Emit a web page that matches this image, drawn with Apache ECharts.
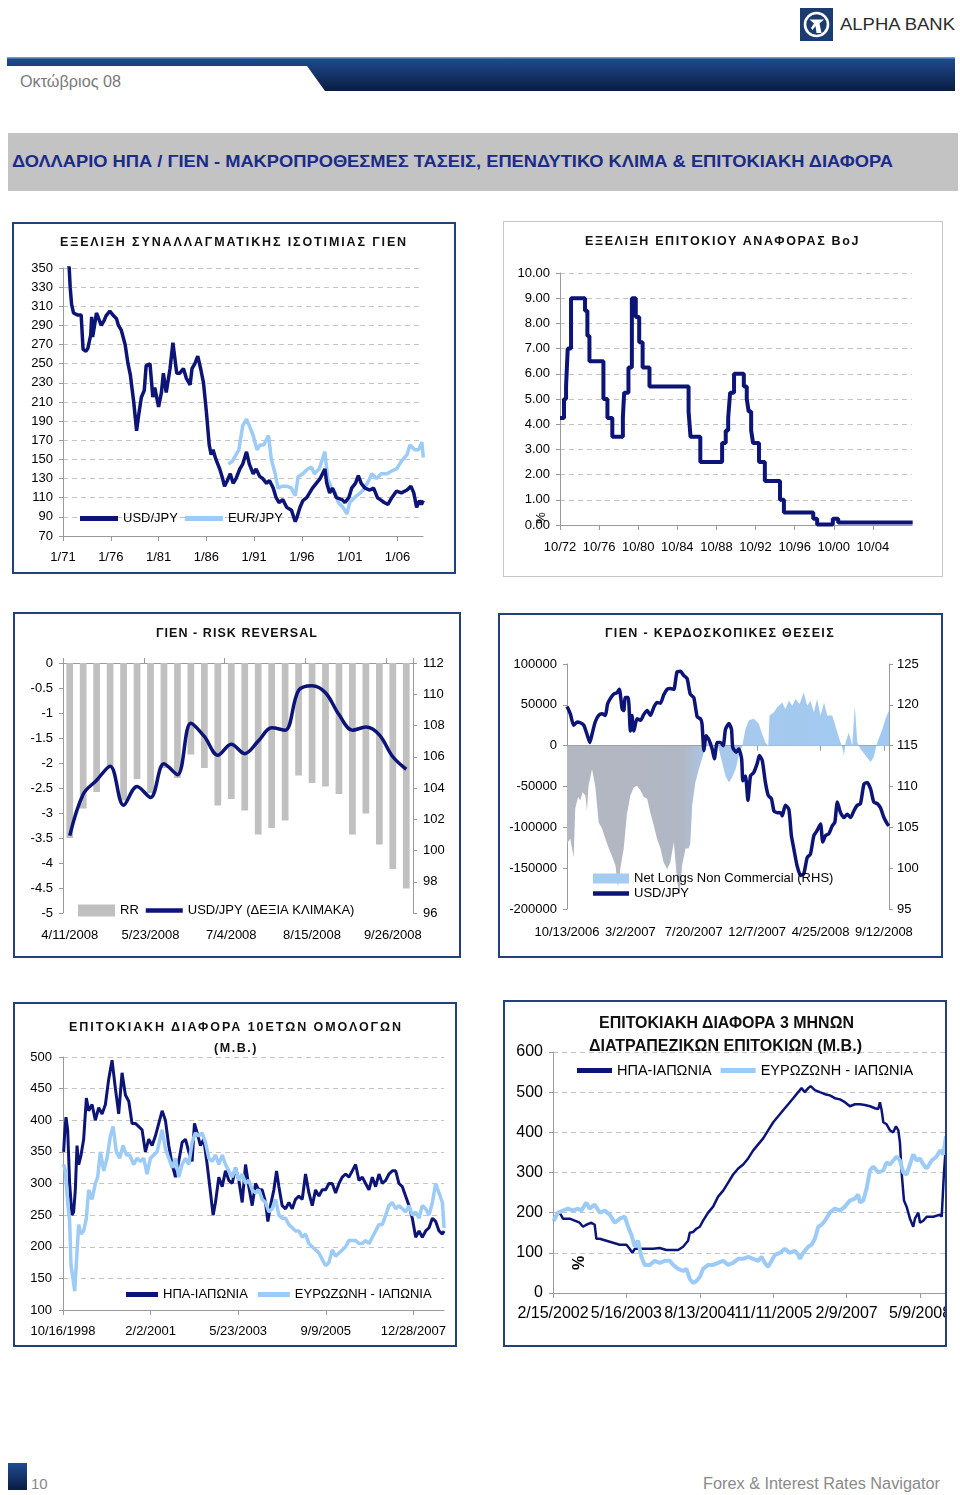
<!DOCTYPE html>
<html><head><meta charset="utf-8">
<script src="https://cdn.jsdelivr.net/npm/echarts@6/dist/echarts.min.js"></script>
<style>
html,body{margin:0;padding:0;background:#fff}
body{position:relative;width:960px;height:1495px;overflow:hidden;font-family:'Liberation Sans',Arial,sans-serif}
.t{position:absolute;white-space:nowrap;line-height:1}
.chart{position:absolute}
.box{position:absolute;box-sizing:border-box;border:2px solid #22407c;pointer-events:none;z-index:2}
.ct{position:absolute;white-space:nowrap;line-height:1;font:bold 12.5px 'Liberation Sans',Arial,sans-serif;color:#111;z-index:3}
.ct6{position:absolute;white-space:nowrap;line-height:1;font:bold 17px 'Liberation Sans',Arial,sans-serif;color:#111;z-index:3}
</style></head><body>

<!-- header -->
<svg style="position:absolute;left:800px;top:8px" width="33" height="33">
  <rect width="33" height="33" fill="#1c3b6e"/>
  <circle cx="16.5" cy="16.5" r="11.5" fill="none" stroke="#fff" stroke-width="2.6"/>
  <path d="M9.5 11.5 L24 11.5 L19.5 15.5 L21.5 25 L16.5 25 L15.5 18 L12.5 22 L11 20 L14 15.5 Z" fill="#fff"/>
</svg>
<div class="t" data-w="115" style="left:840px;top:16px;font-size:17px;color:#2b2b2b">ALPHA BANK</div>
<svg style="position:absolute;left:0;top:55px" width="960" height="40">
  <defs><linearGradient id="gb" x1="0" y1="0" x2="0" y2="1"><stop offset="0" stop-color="#1f4d92"/><stop offset="1" stop-color="#0a1c42"/></linearGradient></defs>
  <rect x="7" y="2" width="948" height="34" fill="url(#gb)"/>
  <rect x="7" y="2" width="948" height="1.5" fill="#6f9ad4"/>
  <polygon points="7,11 307,11 325,36 7,36" fill="#fff"/>
</svg>
<div class="t" data-w="101" style="left:20px;top:74px;font-size:16px;color:#7a7a7a">Οκτώβριος 08</div>
<div style="position:absolute;left:8px;top:133px;width:950px;height:58px;background:#c3c3c3"></div>
<div class="t" data-w="881" style="left:12px;top:153px;font-size:17px;font-weight:bold;color:#1a2b8a">ΔΟΛΛΑΡΙΟ ΗΠΑ / ΓΙΕΝ - ΜΑΚΡΟΠΡΟΘΕΣΜΕΣ ΤΑΣΕΙΣ, ΕΠΕΝΔΥΤΙΚΟ ΚΛΙΜΑ &amp; ΕΠΙΤΟΚΙΑΚΗ ΔΙΑΦΟΡΑ</div>

<!-- charts -->
<div id="c1" class="chart" style="left:12px;top:222px;width:444px;height:352px"></div>
<div class="box" style="left:12px;top:222px;width:444px;height:352px"></div>
<div class="ct" data-w="348" data-mode="ls" style="left:60px;top:235px">ΕΞΕΛΙΞΗ ΣΥΝΑΛΛΑΓΜΑΤΙΚΗΣ ΙΣΟΤΙΜΙΑΣ ΓΙΕΝ</div>

<div id="c2" class="chart" style="left:503px;top:221px;width:440px;height:356px"></div>
<div class="box" style="left:503px;top:221px;width:440px;height:356px;border:1px solid #c8c8c8"></div>
<div class="ct" data-w="275" data-mode="ls" style="left:585px;top:234px">ΕΞΕΛΙΞΗ ΕΠΙΤΟΚΙΟΥ ΑΝΑΦΟΡΑΣ BoJ</div>

<div id="c3" class="chart" style="left:13px;top:612px;width:448px;height:346px"></div>
<div class="box" style="left:13px;top:612px;width:448px;height:346px"></div>
<div class="ct" data-w="162" data-mode="ls" style="left:156px;top:626px">ΓΙΕΝ - RISK REVERSAL</div>

<div id="c4" class="chart" style="left:498px;top:613px;width:445px;height:345px"></div>
<div class="box" style="left:498px;top:613px;width:445px;height:345px"></div>
<div class="ct" data-w="230" data-mode="ls" style="left:605px;top:626px">ΓΙΕΝ - ΚΕΡΔΟΣΚΟΠΙΚΕΣ ΘΕΣΕΙΣ</div>

<div id="c5" class="chart" style="left:13px;top:1002px;width:444px;height:345px"></div>
<div class="box" style="left:13px;top:1002px;width:444px;height:345px"></div>
<div class="ct" data-w="334" data-mode="ls" style="left:69px;top:1020px">ΕΠΙΤΟΚΙΑΚΗ ΔΙΑΦΟΡΑ 10ΕΤΩΝ ΟΜΟΛΟΓΩΝ</div>
<div class="ct" data-w="44" data-mode="ls" style="left:214px;top:1041px">(Μ.Β.)</div>

<div id="c6" class="chart" style="left:503px;top:1000px;width:444px;height:347px"></div>
<div class="box" style="left:503px;top:1000px;width:444px;height:347px"></div>
<div class="ct6" data-w="255" style="left:599px;top:1013px">ΕΠΙΤΟΚΙΑΚΗ ΔΙΑΦΟΡΑ 3 ΜΗΝΩΝ</div>
<div class="ct6" data-w="273" style="left:589px;top:1036px">ΔΙΑΤΡΑΠΕΖΙΚΩΝ ΕΠΙΤΟΚΙΩΝ (Μ.Β.)</div>

<!-- footer -->
<div style="position:absolute;left:8px;top:1463px;width:19px;height:27px;background:linear-gradient(#1f4d92,#0a1c42)"></div>
<div class="t" style="left:31px;top:1476px;font-size:15px;color:#888">10</div>
<div class="t" data-w="237" style="left:703px;top:1476px;font-size:16px;color:#8a8a8a">Forex &amp; Interest Rates Navigator</div>

<script>
// ---------- DATA ----------
// Chart 1: yen exchange rates (decimal year, value)
const fxTickLabels = ['1/71','1/76','1/81','1/86','1/91','1/96','1/01','1/06'];
const usdJpyYear = [1971.0,1971.5,1971.65,1971.75,1971.9,1972.1,1972.5,1972.9,1973.1,1973.4,1973.6,1973.9,1974.0,1974.1,1974.3,1974.5,1974.7,1974.9,1975.0,1975.3,1975.5,1975.9,1976.3,1976.6,1976.8,1977.1,1977.5,1977.8,1978.05,1978.4,1978.7,1978.9,1979.2,1979.5,1979.7,1980.1,1980.4,1980.6,1981.0,1981.3,1981.5,1981.8,1982.2,1982.5,1982.9,1983.2,1983.6,1983.9,1984.3,1984.5,1984.8,1985.1,1985.4,1985.7,1986.0,1986.3,1986.5,1986.7,1987.0,1987.4,1987.7,1987.9,1988.2,1988.5,1988.8,1989.1,1989.5,1989.8,1990.2,1990.5,1990.9,1991.2,1991.6,1991.9,1992.3,1992.6,1993.0,1993.3,1993.6,1994.0,1994.4,1994.9,1995.3,1995.5,1995.8,1996.1,1996.5,1996.8,1997.1,1997.5,1997.9,1998.4,1998.6,1998.9,1999.2,1999.6,2000.2,2000.5,2000.9,2001.2,2001.6,2001.9,2002.2,2002.6,2003.1,2003.5,2003.9,2004.2,2004.6,2005.0,2005.4,2005.9,2006.4,2007.0,2007.4,2007.7,2008.0,2008.3,2008.5,2008.7];
const usdJpyValue = [358,357,350,330,312,303,301,301,265,263,266,280,299,278,290,303,298,300,290,295,300,305,300,297,290,285,270,250,238,210,180,195,215,222,248,250,215,225,205,220,240,220,245,272,240,240,245,235,228,245,250,258,245,230,200,165,155,160,150,140,130,122,128,135,125,130,140,145,158,145,135,140,132,130,125,128,120,110,105,108,100,97,85,90,100,107,110,115,120,125,130,140,125,115,120,110,108,105,110,120,125,133,125,120,118,120,110,108,105,103,110,117,115,118,122,115,100,107,103,107];
const eurJpyYear = [1988.3,1988.7,1989.4,1989.8,1990.2,1990.5,1990.9,1991.3,1991.6,1992.0,1992.5,1992.8,1993.2,1993.5,1993.9,1994.4,1994.9,1995.3,1995.6,1996.1,1996.6,1997.0,1997.3,1997.8,1998.4,1998.7,1999.1,1999.5,1999.8,2000.3,2000.7,2001.0,2001.5,2002.1,2002.4,2003.0,2003.3,2003.8,2004.3,2004.9,2005.4,2005.9,2006.4,2007.0,2007.3,2007.8,2008.2,2008.55,2008.7];
const eurJpyValue = [145,148,160,185,192,185,175,160,165,165,175,150,135,120,122,122,120,112,132,135,140,142,135,140,158,130,120,115,105,100,93,105,110,115,118,128,135,130,135,135,138,140,148,155,165,160,160,168,152];

// Chart 2: BoJ reference rate, change points (decimal year, %)
const bojTickLabels = ['10/72','10/76','10/80','10/84','10/88','10/92','10/96','10/00','10/04'];
const bojYear = [1972.75,1973.16,1973.37,1973.54,1973.88,1975.31,1975.55,1975.76,1977.19,1977.6,1978.1,1979.18,1979.31,1979.75,1980.1,1980.5,1980.85,1981.2,1981.9,1985.9,1986.1,1987.1,1989.33,1989.7,1989.95,1990.15,1990.55,1991.55,1991.85,1992.05,1992.3,1992.5,1993.1,1993.7,1995.25,1995.65,1998.65,1999.05,2000.65,2001.2,2008.82];
const bojRate = [4.25,5.0,5.5,7.0,9.0,8.5,7.5,6.5,5.0,4.25,3.5,4.25,5.25,6.25,9.0,8.25,7.25,6.25,5.5,4.5,3.5,2.5,3.25,3.75,4.25,5.25,6.0,5.5,5.0,4.5,3.75,3.25,2.5,1.75,1.0,0.5,0.25,0.02,0.25,0.1,0.1];

// Chart 3: risk reversal (weekly)
const rrDates = ['4/11/2008','4/18/2008','4/25/2008','5/2/2008','5/9/2008','5/16/2008','5/23/2008','5/30/2008','6/6/2008','6/13/2008','6/20/2008','6/27/2008','7/4/2008','7/11/2008','7/18/2008','7/25/2008','8/1/2008','8/8/2008','8/15/2008','8/22/2008','8/29/2008','9/5/2008','9/12/2008','9/19/2008','9/26/2008','10/3/2008'];
const rrValues = [-3.5,-2.91,-2.58,-2.07,-2.75,-2.32,-2.6,-2.1,-2.3,-1.83,-2.1,-2.85,-2.72,-2.95,-3.43,-3.3,-3.15,-2.25,-2.4,-2.47,-2.62,-3.43,-3.01,-3.63,-4.12,-4.51];
const rrUsdJpy = [100.95,103.6,104.5,105.4,102.9,104.1,103.4,105.55,104.85,108.15,107.3,106.1,106.8,106.2,107.0,107.85,107.7,110.25,110.55,110.1,108.7,107.7,107.9,107.4,106.0,105.2];

// Chart 4: speculative positions (weeks since 10/13/2006)
const cotTickLabels = ['10/13/2006','3/2/2007','7/20/2007','12/7/2007','4/25/2008','9/12/2008'];
const cotWeek = [0,1.05,2.1,2.6,3.5,4.2,4.9,5.8,6.3,6.8,7.9,8.9,10,11.1,12.1,13.2,14.2,15.3,16.1,16.8,17.9,18.9,20,21.1,22.1,23.2,24.2,25.3,26.3,27.4,28.4,29.5,30.5,31.6,32.6,33.7,34.7,35.5,36.3,37.4,38.4,38.9,39.5,40.5,41.6,42.6,43.7,44.7,45.8,47.4,48.4,50,51.1,52.1,53.2,54.2,55.3,56.3,57.4,58.9,60.5,61.6,62.6,63.5,63.9,65.3,66.3,67.9,68.9,70,71.1,72.1,73.4,74.7,75.8,76.8,77.9,78.9,80,81.1,82.1,83.7,84.7,85.8,86.8,87.4,87.9,88.9,90,90.8,91.6,92.6,94.2,95.8,96.8,97.9,99.5,100.5,101.6];
const cotNetLongs = [-120000,-114000,-137000,-77000,-63000,-67000,-57000,-61000,-80000,-49000,-29000,-49000,-94000,-102000,-114000,-126000,-135000,-147000,-173000,-151000,-126000,-84000,-61000,-51000,-49000,-55000,-63000,-65000,-82000,-98000,-114000,-126000,-143000,-151000,-143000,-118000,-163000,-184000,-147000,-126000,-126000,-120000,-73000,-45000,-29000,-16000,-2000,6000,-4000,4000,-12000,-37000,-45000,-39000,-29000,-12000,0,20000,31000,33000,27000,14000,4000,0,37000,41000,47000,53000,45000,55000,49000,57000,51000,65000,49000,55000,41000,57000,37000,53000,37000,37000,24000,10000,-2000,-12000,4000,16000,0,49000,4000,-4000,-12000,-20000,-14000,4000,20000,33000,43000];
const cotFxWeek = [0,1.05,2.1,3.2,4.2,5.3,6.3,7.2,7.9,8.9,10,11.1,12.1,12.8,13.7,14.7,15.8,16.5,17.4,17.9,18.4,19.3,20,20.5,21.1,22.1,23.2,24.2,25.3,26.3,27.4,28.4,29.5,30.5,31.6,32.6,33.7,34.7,35.8,36.8,37.9,38.9,40,41.1,42.1,42.6,43.2,43.9,44.7,45.8,46.5,47.4,48.4,49.3,50,51.1,51.9,52.3,53.4,54.2,55.1,55.5,56.3,57.1,57.9,58.9,60,60.7,61.6,62.6,63.5,64.5,65.3,66.3,67.4,67.9,68.9,70,70.8,71.6,72.6,73.7,74.7,75.8,76.8,77.9,78.9,80,80.7,81.6,82.6,83.7,84.5,85.3,86.3,87.4,88.4,89.5,90.5,91.6,92.6,93.7,94.7,95.8,96.8,97.9,98.9,100,101.1,101.6];
const cotFxValue = [119.8,118.9,117.5,117.9,117.8,117.5,116.4,115.4,116.4,117.9,118.7,118.9,118.7,120.1,120.8,121.3,121.5,121.9,119.5,119.3,120.9,120.9,116.8,118.7,116.8,118.3,118.1,118.8,119.3,118.7,119.7,120.3,120.2,121.2,121.9,122.0,121.9,124.0,124.1,123.6,123.2,121.3,120.9,118.5,118.3,117.7,114.4,116.2,115.8,114.6,113.4,115.4,115.4,115.0,117.0,117.7,117.0,114.8,114.2,114.6,113.4,110.7,111.3,108.3,111.3,111.7,112.8,113.8,113.2,110.5,108.9,108.5,107.0,106.8,106.8,106.4,107.7,107.2,104.0,102.3,100.3,99.1,99.3,101.3,101.7,104.0,104.6,105.4,103.2,104.0,104.2,105.2,105.6,108.1,106.8,106.2,106.6,106.2,107.0,107.7,107.9,110.3,110.5,109.7,108.1,107.9,107.4,106.2,105.4,105.2];

// Chart 5: 10y spreads (weeks since 10/16/1998, bp)
const bond10TickLabels = ['10/16/1998','2/2/2001','5/23/2003','9/9/2005','12/28/2007'];
const usJp10Week = [0.9,2.3,4.1,6.4,9.1,12.3,14.6,16.9,19.2,21.5,24.7,28.3,32,35.2,39.8,44.3,48.9,53.5,58.1,62.6,67.2,71.8,76.3,80.9,85.5,90.1,94.6,99.2,103.8,108.3,112.9,117.5,122.1,126.6,131.2,135.8,140.3,144.9,149.5,154.1,158.6,163.2,167.8,172.3,176.9,180.1,183.8,188.3,192.9,197.5,201.1,205.7,208.9,213.5,218.1,222.6,227.2,231.8,236.3,240.9,245.5,250.1,254.6,259.2,263.8,268.3,272.9,277.5,280.7,284.3,288.9,292.6,295.8,300.3,304.9,309.5,314.1,318.6,323.2,327.8,332.3,336.9,341.5,346.1,350.6,355.2,359.8,364.3,368.9,373.5,378.1,382.6,387.2,391.8,396.3,400.9,405.5,410.1,414.6,419.2,423.8,428.3,432.9,437.5,442.1,446.6,451.2,455.8,460.3,464.9,469.5,474.1,478.6,483.2,487.8,492.3,496.9,501.5,506.1,510.6,515.2,519.8,522.1];
const usJp10Value = [350,380,405,385,300,250,255,290,360,330,345,370,435,415,425,400,420,410,425,465,495,450,410,475,440,430,395,395,390,385,350,370,360,375,395,415,400,360,330,310,335,365,370,350,335,395,380,360,370,330,295,250,270,310,295,320,305,300,325,305,270,330,295,265,300,290,290,270,240,265,290,320,295,265,260,270,260,275,280,275,315,285,265,290,280,290,290,300,300,285,300,310,315,310,320,330,305,310,300,290,310,295,315,300,305,315,320,320,300,295,280,265,245,215,225,215,225,230,245,240,225,220,225];
const euJp10Week = [0.9,3.2,6.4,9.1,11,13.7,16,18.3,21.5,24.7,28.3,32,35.2,39.8,44.3,47.5,51.2,55.8,60.3,64.9,68.6,73.1,77.7,82.3,86.9,91.4,96.9,101.5,106.1,110.6,115.2,119.8,124.3,128.9,135.8,140.3,144.9,149.5,154.1,158.6,163.2,167.8,172.3,176.9,181.5,186.1,190.6,195.2,199.8,204.3,208.9,213.5,218.1,222.6,227.2,231.8,236.3,240.9,245.5,250.1,254.6,259.2,263.8,268.3,272.9,277.5,282.1,286.6,291.2,295.8,300.3,304.9,309.5,314.1,318.6,323.2,327.8,332.3,336.9,341.5,346.1,350.6,355.2,359.8,364.3,368.9,373.5,378.1,382.6,387.2,391.8,396.3,400.9,405.5,410.1,414.6,419.2,423.8,428.3,432.9,437.5,442.1,446.6,451.2,455.8,460.3,464.9,469.5,474.1,478.6,483.2,487.8,492.3,496.9,501.5,506.1,510.6,515.2,519.8,522.1];
const euJp10Value = [330,320,270,240,170,150,130,175,235,220,225,245,290,275,300,310,350,320,340,375,390,350,340,360,345,345,330,340,335,340,315,340,345,350,385,355,340,325,340,310,330,340,330,365,380,375,380,365,340,335,345,330,345,330,320,310,325,305,315,300,305,290,285,290,275,270,255,260,275,250,245,245,235,230,225,225,215,220,205,200,195,190,180,170,175,195,185,190,195,200,210,210,210,205,205,210,205,215,225,235,235,250,265,270,260,265,260,255,265,250,255,245,265,260,250,270,300,285,270,230];

// Chart 6: 3m interbank spreads (weeks since 2/15/2002, bp)
const ib3TickLabels = ['2/15/2002','5/16/2003','8/13/2004','11/11/2005','2/9/2007','5/9/2008'];
const usJp3Week = [0.6,3,5.9,8.9,14.8,19.2,23.6,26.6,29.5,34,36.9,38.4,41.4,47.3,53.2,59.1,65,67.9,70.3,72.4,76.8,82.7,88.6,94.5,100.4,106.4,110.8,115.2,119.6,121.1,124.1,127,130,132.9,137.4,141.8,146.2,150.7,155.1,159.5,164,168.4,172.8,177.3,181.7,186.1,190.5,195,199.4,203.8,208.3,212.7,217.1,220.1,223,226,228.1,231.9,236.3,240.8,245.2,249.6,254.1,258.5,262.9,267.4,271.8,276.2,280.7,285.1,288,289.5,291,292.5,295.4,298.4,301.3,303.7,305.8,307.2,308.7,310.8,313.1,316.1,319,320.5,323.5,325,327.9,330.9,336.8,342.7,344.2,346.2,348];
const usJp3Value = [180,195,200,185,185,180,175,165,170,175,170,135,135,130,125,120,120,110,100,110,110,110,110,112,107,107,107,115,130,150,152,160,165,180,200,215,240,255,275,295,310,320,335,355,370,385,405,425,440,455,470,485,500,510,500,510,515,505,500,495,492,485,482,475,465,470,470,468,465,460,458,475,455,425,420,405,400,415,405,375,300,230,215,185,165,185,200,175,180,190,190,195,190,300,370];
const euJp3Week = [0.6,4.4,8.9,13.3,17.7,22.2,25.1,29.5,32.5,36.9,41.4,45.8,50.2,54.7,59.1,63.5,66.5,69.4,72.4,75.3,78.3,81.2,85.7,90.1,94.5,99,103.4,106.4,110.8,115.2,118.2,121.1,124.1,127,130,132.9,137.4,141.8,146.2,150.7,155.1,159.5,164,168.4,172.8,177.3,181.7,184.6,187.6,190.5,193.5,196.5,200.9,205.3,209.7,214.2,217.1,218.6,221.6,226,229,231.9,234.9,237.8,240.8,245.2,249.6,254.1,258.5,262.9,267.4,270.3,271.8,274.7,277.7,280.7,283.6,288,292.5,295.4,298.4,301.3,304.3,307.2,310.2,313.1,316.1,319,322,325,327.9,330.9,335.3,339.7,342.7,345.7,348];
const euJp3Value = [180,200,205,210,205,210,205,225,210,220,200,205,195,175,185,190,165,145,115,130,90,70,70,80,75,80,80,70,60,55,60,35,25,30,40,60,70,70,75,80,70,75,85,85,90,85,80,90,75,65,80,95,100,110,100,105,95,85,100,115,120,135,165,170,180,200,210,205,215,230,235,245,225,230,260,305,315,300,305,325,320,330,340,330,300,295,320,345,330,335,320,310,330,340,355,345,390];

// ---------- STYLE ----------
const NAVY = '#0c1577', LIGHT = '#9ccbf7', BARGRAY = '#c0c0c0', AX = '#9a9a9a', GRIDC = '#c4c4c4';
const FONT = "'Liberation Sans', Arial, sans-serif";
const lab = (size, extra) => Object.assign({fontFamily: FONT, fontSize: size || 13, color: '#000'}, extra || {});
const labelFrom = (arr, step) => v => { const i = Math.round(v / step); return (Math.abs(v - i * step) < 1e-6 && arr[i] !== undefined) ? arr[i] : ''; };
const zip = (xs, ys, f) => xs.map((x, i) => [f ? f(x) : x, ys[i]]);
const lineAx = {show: true, onZero: false, lineStyle: {color: AX}};
const tickAx = {show: true, length: 4, lineStyle: {color: AX}};
const dashed = {show: true, lineStyle: {color: GRIDC, type: [5, 4], width: 1}};
const LINE_ICON = 'path://M0,0H40V5H0Z';
const G = o => Object.assign({outerBoundsMode: 'none', containLabel: false}, o);

// fit texts
document.querySelectorAll('[data-w]').forEach(el => {
  const target = +el.dataset.w, w = el.getBoundingClientRect().width;
  if (el.dataset.mode === 'ls') {
    const n = el.textContent.length;
    el.style.letterSpacing = ((target - w) / n) + 'px';
  } else {
    el.style.transformOrigin = 'left center';
    el.style.transform = 'scaleX(' + (target / w) + ')';
  }
});

// ---------- CHART 1 ----------
echarts.init(document.getElementById('c1')).setOption({
  animation: false,
  grid: G({left: 51, top: 46, width: 360, height: 268}),
  legend: {left: 68, top: 290, padding: 0, itemWidth: 38, itemHeight: 5, itemGap: 7, icon: 'rect', data: ['USD/JPY', 'EUR/JPY'], textStyle: lab(13)},
  xAxis: {type: 'value', min: 0, max: 452, interval: 60, axisLine: lineAx, axisTick: {show: true, length: 5, lineStyle: {color: AX}}, splitLine: {show: false},
    axisLabel: lab(13, {margin: 15, showMaxLabel: false, formatter: labelFrom(fxTickLabels, 60)})},
  yAxis: {type: 'value', min: 70, max: 350, interval: 20, axisLine: lineAx, axisTick: tickAx, splitLine: dashed, axisLabel: lab(13, {margin: 10})},
  series: [
    {name: 'EUR/JPY', type: 'line', symbol: 'none', data: zip(eurJpyYear, eurJpyValue, y => (y - 1971) * 12), lineStyle: {width: 3.5, color: LIGHT}, itemStyle: {color: LIGHT}},
    {name: 'USD/JPY', type: 'line', symbol: 'none', data: zip(usdJpyYear, usdJpyValue, y => (y - 1971) * 12), lineStyle: {width: 3.5, color: NAVY}, itemStyle: {color: NAVY}}
  ]
});

// ---------- CHART 2 ----------
echarts.init(document.getElementById('c2')).setOption({
  animation: false,
  grid: G({left: 57, top: 52, width: 352, height: 252}),
  xAxis: {type: 'value', min: 0, max: 432, interval: 48, axisLine: lineAx, axisTick: {show: true, length: 5, lineStyle: {color: AX}}, splitLine: {show: false},
    axisLabel: lab(13, {margin: 16, showMaxLabel: false, formatter: labelFrom(bojTickLabels, 48)})},
  yAxis: {type: 'value', min: 0, max: 10, interval: 1, axisLine: lineAx, axisTick: tickAx, splitLine: dashed, axisLabel: lab(13, {margin: 10, formatter: v => v.toFixed(2)})},
  graphic: [{type: 'text', x: 38, y: 297, rotation: Math.PI / 2, style: {text: '%', fontSize: 13, fontFamily: FONT, fill: '#000', align: 'center', verticalAlign: 'middle'}}],
  series: [{name: 'BoJ', type: 'line', step: 'end', symbol: 'none', data: zip(bojYear, bojRate, y => (y - 1972.75) * 12), lineStyle: {width: 4, color: NAVY}, itemStyle: {color: NAVY}}]
});

// ---------- CHART 3 ----------
echarts.init(document.getElementById('c3')).setOption({
  animation: false,
  grid: G({left: 50, top: 51, width: 350, height: 250}),
  legend: {left: 65, top: 292, padding: 0, itemWidth: 37, itemHeight: 12, itemGap: 7,
    data: [{name: 'RR', icon: 'rect'}, {name: 'USD/JPY (ΔΕΞΙΑ ΚΛΙΜΑΚΑ)', icon: LINE_ICON}], textStyle: lab(13)},
  xAxis: [
    {type: 'category', data: rrDates, position: 'bottom', axisLine: {show: false, onZero: false}, axisTick: {show: false}, axisLabel: lab(13, {interval: 5, margin: 16})},
    {type: 'category', data: rrDates, position: 'top', axisLine: {show: true, onZero: false, lineStyle: {color: AX}}, axisTick: {show: true, interval: 5, length: 5, lineStyle: {color: AX}}, axisLabel: {show: false}}
  ],
  yAxis: [
    {type: 'value', min: -5, max: 0, interval: 0.5, position: 'left', axisLine: lineAx, axisTick: tickAx, splitLine: {show: false}, axisLabel: lab(13, {margin: 10})},
    {type: 'value', min: 96, max: 112, interval: 2, position: 'right', axisLine: lineAx, axisTick: tickAx, splitLine: {show: false}, axisLabel: lab(13, {margin: 10})}
  ],
  series: [
    {name: 'RR', type: 'bar', data: rrValues, barWidth: '50%', itemStyle: {color: BARGRAY}},
    {name: 'USD/JPY (ΔΕΞΙΑ ΚΛΙΜΑΚΑ)', type: 'line', yAxisIndex: 1, data: rrUsdJpy, smooth: 0.35, symbol: 'none', lineStyle: {width: 3.5, color: NAVY}, itemStyle: {color: NAVY}}
  ]
});

// ---------- CHART 4 ----------
echarts.init(document.getElementById('c4')).setOption({
  animation: false,
  grid: G({left: 69, top: 51, width: 322, height: 245}),
  legend: {orient: 'vertical', left: 95, top: 259, padding: 0, itemWidth: 36, itemHeight: 10, itemGap: 2,
    data: [{name: 'Net Longs Non Commercial (RHS)', icon: 'rect'}, {name: 'USD/JPY', icon: LINE_ICON}], textStyle: lab(13)},
  xAxis: [
    {type: 'value', min: 0, max: 101.6, interval: 20, position: 'bottom', axisLine: {show: false, onZero: false}, axisTick: {show: false}, splitLine: {show: false},
      axisLabel: lab(13, {margin: 17, showMaxLabel: false, formatter: labelFrom(cotTickLabels, 20)})},
    {type: 'value', min: 0, max: 101.6, interval: 20, position: 'top', axisLine: {show: true, onZero: true, onZeroAxisIndex: 0, lineStyle: {color: AX}},
      axisTick: {show: true, inside: true, length: 5, lineStyle: {color: AX}}, axisLabel: {show: false}, splitLine: {show: false}}
  ],
  yAxis: [
    {type: 'value', min: -200000, max: 100000, interval: 50000, axisLine: lineAx, axisTick: tickAx, splitLine: {show: false}, axisLabel: lab(13, {margin: 10, formatter: v => String(v)})},
    {type: 'value', min: 95, max: 125, interval: 5, position: 'right', axisLine: lineAx, axisTick: tickAx, splitLine: {show: false}, axisLabel: lab(13, {margin: 8})}
  ],
  series: [
    {name: 'Net Longs Non Commercial (RHS)', type: 'line', symbol: 'none', data: zip(cotWeek, cotNetLongs), lineStyle: {width: 0},
      itemStyle: {color: '#a4cbf2'},
      areaStyle: {opacity: 1, color: new echarts.graphic.LinearGradient(0, 0, 1, 0, [
        {offset: 0, color: '#b3b7c1'}, {offset: 0.36, color: '#b1b7c4'}, {offset: 0.44, color: '#a8c9ec'}, {offset: 1, color: '#a0caf3'}])}},
    {name: 'USD/JPY', type: 'line', yAxisIndex: 1, symbol: 'none', smooth: 0.2, data: zip(cotFxWeek, cotFxValue), lineStyle: {width: 3.5, color: NAVY}, itemStyle: {color: NAVY}}
  ]
});

// ---------- CHART 5 ----------
echarts.init(document.getElementById('c5')).setOption({
  animation: false,
  grid: G({left: 50, top: 55, width: 381, height: 253}),
  legend: {left: 113, top: 286, padding: 0, itemWidth: 32, itemHeight: 5, itemGap: 10, icon: 'rect', data: ['ΗΠΑ-ΙΑΠΩΝΙΑ', 'ΕΥΡΩΖΩΝΗ - ΙΑΠΩΝΙΑ'], textStyle: lab(13)},
  xAxis: {type: 'value', min: 0, max: 522, interval: 120, axisLine: lineAx, axisTick: {show: true, length: 5, lineStyle: {color: AX}}, splitLine: {show: false},
    axisLabel: lab(13, {margin: 15, showMaxLabel: false, formatter: labelFrom(bond10TickLabels, 120)})},
  yAxis: {type: 'value', min: 100, max: 500, interval: 50, axisLine: lineAx, axisTick: tickAx, splitLine: dashed, axisLabel: lab(13, {margin: 11})},
  series: [
    {name: 'ΗΠΑ-ΙΑΠΩΝΙΑ', type: 'line', symbol: 'none', data: zip(usJp10Week, usJp10Value), lineStyle: {width: 3, color: NAVY}, itemStyle: {color: NAVY}},
    {name: 'ΕΥΡΩΖΩΝΗ - ΙΑΠΩΝΙΑ', type: 'line', symbol: 'none', data: zip(euJp10Week, euJp10Value), lineStyle: {width: 3.5, color: LIGHT}, itemStyle: {color: LIGHT}}
  ]
});

// ---------- CHART 6 ----------
echarts.init(document.getElementById('c6')).setOption({
  animation: false,
  grid: G({left: 50, top: 52, width: 393, height: 241}),
  legend: {left: 74, top: 63, padding: 0, itemWidth: 35, itemHeight: 5, itemGap: 9, icon: 'rect', data: ['ΗΠΑ-ΙΑΠΩΝΙΑ', 'ΕΥΡΩΖΩΝΗ - ΙΑΠΩΝΙΑ'], textStyle: lab(14.5)},
  xAxis: {type: 'value', min: 0, max: 348, interval: 65, axisLine: lineAx, axisTick: {show: true, length: 5, lineStyle: {color: AX}}, splitLine: {show: false},
    axisLabel: lab(16, {margin: 13, showMaxLabel: false, formatter: labelFrom(ib3TickLabels, 65)})},
  yAxis: {type: 'value', min: 0, max: 600, interval: 100, axisLine: lineAx, axisTick: tickAx, splitLine: dashed, axisLabel: lab(16, {margin: 10})},
  graphic: [{type: 'text', x: 77, y: 263, rotation: Math.PI / 2, style: {text: '%', fontSize: 16, fontWeight: 'bold', fontFamily: FONT, fill: '#000', align: 'center', verticalAlign: 'middle'}}],
  series: [
    {name: 'ΗΠΑ-ΙΑΠΩΝΙΑ', type: 'line', symbol: 'none', data: zip(usJp3Week, usJp3Value), lineStyle: {width: 2.5, color: NAVY}, itemStyle: {color: NAVY}},
    {name: 'ΕΥΡΩΖΩΝΗ - ΙΑΠΩΝΙΑ', type: 'line', symbol: 'none', data: zip(euJp3Week, euJp3Value), lineStyle: {width: 4, color: LIGHT}, itemStyle: {color: LIGHT}}
  ]
});
</script>
</body></html>
